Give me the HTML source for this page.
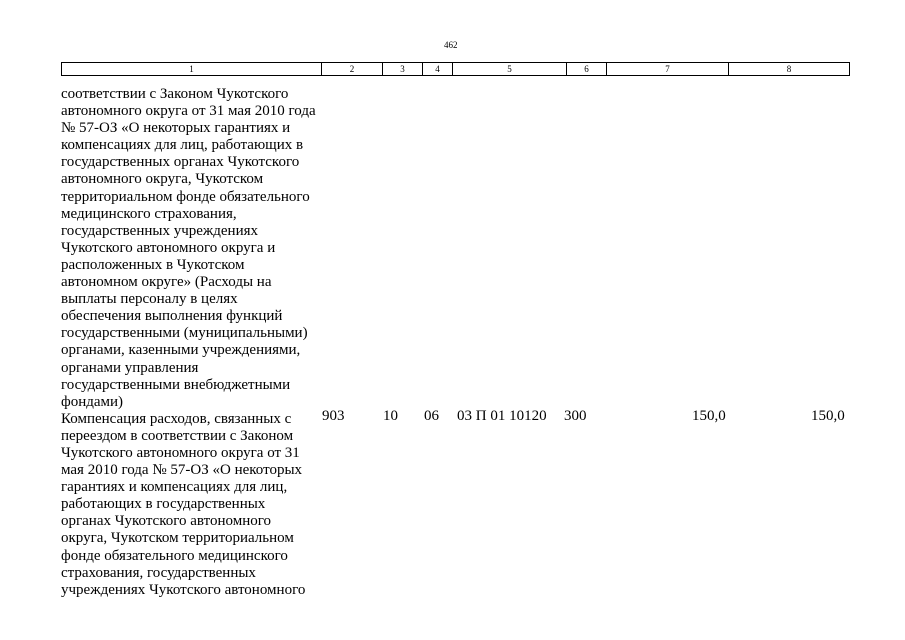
<!DOCTYPE html>
<html><head><meta charset="utf-8"><style>
body{margin:0;background:#fff;width:905px;height:640px;position:relative;overflow:hidden;font-family:"Liberation Serif","DejaVu Serif",serif;color:#000}
.p{position:absolute;font-size:9px;left:444px;top:40px}
table.h{position:absolute;left:61px;top:62px;border-collapse:collapse;font-size:9px}
table.h td{border:1px solid #000;height:12px;padding:0;text-align:center;line-height:12px}
.t{position:absolute;left:61px;font-size:15px;line-height:17.1px;white-space:pre}
.n{position:absolute;font-size:15px;line-height:17.1px}
</style></head><body>
<div class="p">462</div>
<table class="h"><tr>
<td style="width:259px">1</td><td style="width:60px">2</td><td style="width:39px">3</td><td style="width:29px">4</td><td style="width:113px">5</td><td style="width:39px">6</td><td style="width:121px">7</td><td style="width:120px">8</td>
</tr></table>
<div class="t" style="top:86px">соответствии с Законом Чукотского
автономного округа от 31 мая 2010 года
№ 57-ОЗ «О некоторых гарантиях и
компенсациях для лиц, работающих в
государственных органах Чукотского
автономного округа, Чукотском
территориальном фонде обязательного
медицинского страхования,
государственных учреждениях
Чукотского автономного округа и
расположенных в Чукотском
автономном округе» (Расходы на
выплаты персоналу в целях
обеспечения выполнения функций
государственными (муниципальными)
органами, казенными учреждениями,
органами управления
государственными внебюджетными
фондами)
Компенсация расходов, связанных с
переездом в соответствии с Законом
Чукотского автономного округа от 31
мая 2010 года № 57-ОЗ «О некоторых
гарантиях и компенсациях для лиц,
работающих в государственных
органах Чукотского автономного
округа, Чукотском территориальном
фонде обязательного медицинского
страхования, государственных
учреждениях Чукотского автономного</div>
<div class="n" style="left:322px;top:408px">903</div>
<div class="n" style="left:383px;top:408px">10</div>
<div class="n" style="left:424px;top:408px">06</div>
<div class="n" style="left:457px;top:408px">03 П 01 10120</div>
<div class="n" style="left:564px;top:408px">300</div>
<div class="n" style="left:692px;top:408px">150,0</div>
<div class="n" style="left:811px;top:408px">150,0</div>
</body></html>
